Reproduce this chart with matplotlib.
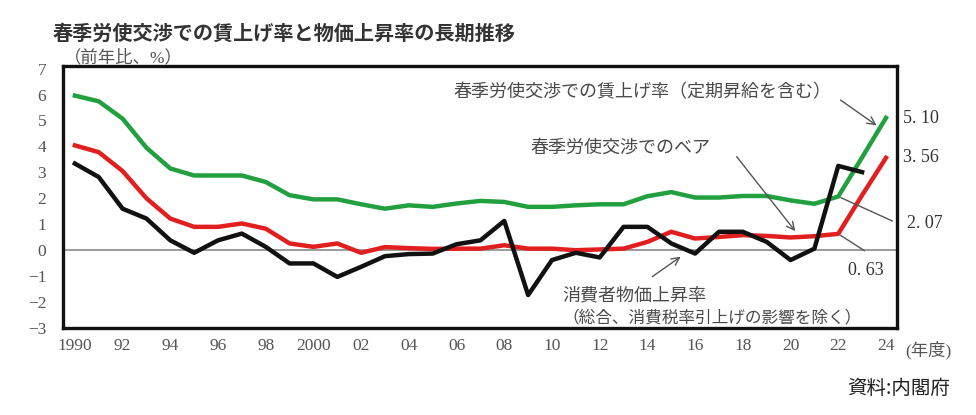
import numpy as np
import matplotlib
matplotlib.use('Agg')
import matplotlib.pyplot as plt

JP = ['Noto Sans CJK JP', 'DejaVu Sans']
SERIF_JP = ['Liberation Serif', 'Noto Sans CJK JP', 'DejaVu Sans']
###############################################################################
# Data
###############################################################################
years = list(range(1990, 2025))
wageTotal = [
    5.96, 5.74, 5.07, 3.95, 3.15, 2.88, 2.88, 2.88, 2.63, 2.12,
    1.96, 1.96, 1.77, 1.60, 1.73, 1.67, 1.80, 1.90, 1.86, 1.67,
    1.67, 1.73, 1.77, 1.77, 2.08, 2.24, 2.03, 2.03, 2.09, 2.09,
    1.92, 1.79, 2.07, 3.58, 5.10
]
baseUp = [
    4.04, 3.78, 3.05, 2.00, 1.22, 0.90, 0.90, 1.03, 0.83, 0.26,
    0.13, 0.26, -0.10, 0.12, 0.08, 0.05, 0.06, 0.06, 0.19, 0.06,
    0.06, 0.00, 0.03, 0.06, 0.32, 0.71, 0.45, 0.51, 0.58, 0.55,
    0.49, 0.54, 0.63, 2.12, 3.56
]
cpiYears = list(range(1990, 2024))
cpi = [
    3.34, 2.82, 1.60, 1.22, 0.38, -0.10, 0.38, 0.64, 0.13, -0.51,
    -0.51, -1.03, -0.64, -0.23, -0.15, -0.13, 0.23, 0.38, 1.13, -1.73,
    -0.38, -0.10, -0.28, 0.90, 0.90, 0.26, -0.13, 0.71, 0.71, 0.32,
    -0.38, 0.06, 3.25, 3.01
]
xTicks = list(range(1990, 2025, 2))
xLabels = ['1990'] + ['{:02d}'.format(y % 100) for y in xTicks[1:]]
xLabels[5] = '2000'
yTicks = list(range(-3, 8))
###############################################################################
# Plot
###############################################################################
(GREEN, RED, BLACK, GRAY) = ('#22a03f', '#e21f1f', '#111111', '#4a4a4a')
fig = plt.figure(figsize=(9.76, 4.15), dpi=100)
ax = fig.add_axes([0.0645, 0.2096, 0.8545, 0.6313])
ax.axhline(0, color='#8a8a8a', lw=1.2, zorder=1)
ax.plot(years, wageTotal, color=GREEN, lw=3.2, zorder=3, solid_joinstyle='round')
ax.plot(years, baseUp, color=RED, lw=3.2, zorder=3, solid_joinstyle='round')
ax.plot(cpiYears, cpi, color=BLACK, lw=3.2, zorder=4, solid_joinstyle='round')
ax.set_xlim(1989.5, 2024.46)
ax.set_ylim(-3, 7.1)
ax.set_xticks(xTicks)
ax.set_xticklabels(xLabels)
ax.set_yticks(yTicks)
ax.set_yticklabels([str(v).replace('-', '\u2212') for v in yTicks])
ax.tick_params(length=0, labelsize=12.5, labelcolor='#555555')
ax.tick_params(axis='y', pad=12)
ax.tick_params(axis='x', pad=7)
for lbl in ax.get_xticklabels() + ax.get_yticklabels():
    lbl.set_family('Liberation Serif')
for sp in ax.spines.values():
    sp.set_linewidth(2.4)
    sp.set_color('#111111')
# Annotations -----------------------------------------------------------------
arrowKw = dict(arrowstyle='->', color='#555555', lw=1.0, mutation_scale=14)
lineKw = dict(arrowstyle='-', color='#555555', lw=1.0)
ax.text(2005.85, 6.08, '春季労使交渉での賃上げ率（定期昇給を含む）',
        family=JP, fontsize=13, color=GRAY, va='center', ha='left')
ax.annotate('', xy=(2023.7, 4.75), xytext=(2022.0, 5.85), arrowprops=arrowKw)
ax.text(2009.08, 3.96, '春季労使交渉でのベア',
        family=JP, fontsize=13, color=GRAY, va='center', ha='left')
ax.annotate('', xy=(2020.27, 0.65), xytext=(2017.67, 3.69), arrowprops=arrowKw)
ax.text(2010.42, -1.73, '消費者物価上昇率',
        family=JP, fontsize=13, color=GRAY, va='center', ha='left')
ax.text(2010.45, -2.62, '（総合、消費税率引上げの影響を除く）',
        family=JP, fontsize=12, color=GRAY, va='center', ha='left')
ax.annotate('', xy=(2015.49, -0.19), xytext=(2014.11, -1.08), arrowprops=arrowKw)
# End values ------------------------------------------------------------------
ax.annotate('', xy=(2024.38, 1.08), xytext=(years[-3], wageTotal[-3]),
            arrowprops=lineKw, annotation_clip=False)
ax.annotate('', xy=(2023.2, -0.08), xytext=(years[-3], baseUp[-3]),
            arrowprops=lineKw)
numKw = dict(family='Liberation Serif', fontsize=13, color='#333333',
             va='center', ha='left', clip_on=False)
ax.text(2024.72, 5.08, '5. 10', **numKw)
ax.text(2024.72, 3.58, '3. 56', **numKw)
ax.text(2024.88, 1.04, '2. 07', **numKw)
ax.text(2022.4, -0.77, '0. 63', **numKw)
# Units -----------------------------------------------------------------------
ax.text(1989.55, 7.42, '（前年比、%）', family=SERIF_JP, fontsize=12.5,
        color='#555555', va='center', ha='left', clip_on=False)
ax.text(2024.8, -3.85, '(年度)', family=SERIF_JP, fontsize=12.5,
        color='#555555', va='center', ha='left', clip_on=False)
fig.text(0.054, 0.92, '春季労使交渉での賃上げ率と物価上昇率の長期推移',
         family=JP, fontsize=14.5, fontweight='bold', color='#333333',
         va='center', ha='left')
fig.text(0.973, 0.065, '資料:内閣府', family=JP, fontsize=14,
         color='#222222', va='center', ha='right')
fig.savefig('out.png', dpi=100)
plt.close('all')
